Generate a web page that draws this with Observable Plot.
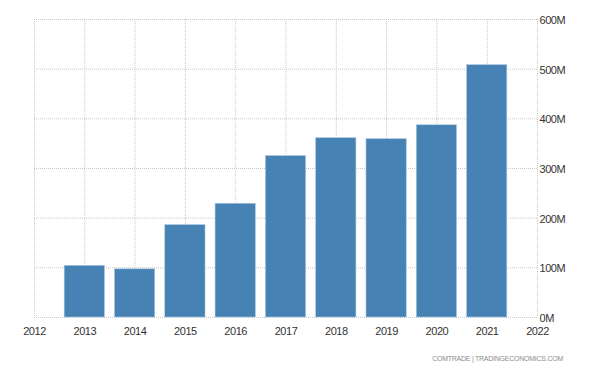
<!DOCTYPE html>
<html>
<head>
<meta charset="utf-8">
<script src="https://cdn.jsdelivr.net/npm/d3@7"></script>
<script src="https://cdn.jsdelivr.net/npm/@observablehq/plot@0.6"></script>
<style>
  html, body { margin: 0; padding: 0; background: #fff; }
  #wrap { position: relative; width: 600px; height: 375px; }
  #caption {
    position: absolute; right: 37px; top: 355px;
    font-family: "Liberation Sans", Arial, sans-serif;
    font-size: 7px; color: #8c8c8c; letter-spacing: -0.25px;
  }
  svg text { letter-spacing: -0.45px; }
</style>
</head>
<body>
<div id="wrap"></div>
<script>
const years = [2013, 2014, 2015, 2016, 2017, 2018, 2019, 2020, 2021];
const valuesM = [104, 97, 186, 229, 325, 361, 359, 387, 508];
const xTicks = [2012, 2013, 2014, 2015, 2016, 2017, 2018, 2019, 2020, 2021, 2022];
const yTicks = [0, 100, 200, 300, 400, 500, 600];
const source = "COMTRADE | TRADINGECONOMICS.COM";

const data = years.map((y, i) => ({year: y, value: valuesM[i]}));
const half = 0.4;

const chart = Plot.plot({
  width: 600,
  height: 375,
  marginTop: 19,
  marginBottom: 58,
  marginLeft: 34,
  marginRight: 63,
  style: {fontFamily: "'Liberation Sans', Arial, sans-serif", fontSize: "11px", color: "#333", background: "#fff"},
  x: {domain: [2012, 2022], label: null},
  y: {domain: [0, 600], label: null},
  marks: [
    Plot.gridX(xTicks, {stroke: "#c8c8c8", strokeOpacity: 1, strokeDasharray: "1,1"}),
    Plot.gridY(yTicks, {stroke: "#c8c8c8", strokeOpacity: 1, strokeDasharray: "1,1"}),
    Plot.rectY(data, {x1: d => d.year - half, x2: d => d.year + half, y: "value", fill: "#4682b4", stroke: "#a9c6df", strokeWidth: 0.6}),
    Plot.axisX(xTicks, {tickSize: 0, tickPadding: 10, tickFormat: d => String(d), fill: "#333", fontSize: 11}),
    Plot.axisY(yTicks, {anchor: "right", tickSize: 0, tickPadding: 2, tickFormat: d => d + "M", fill: "#333", fontSize: 11, dy: 1})
  ]
});
document.getElementById("wrap").appendChild(chart);
const cap = document.createElement("div");
cap.id = "caption";
cap.textContent = source;
document.getElementById("wrap").appendChild(cap);
</script>
</body>
</html>
